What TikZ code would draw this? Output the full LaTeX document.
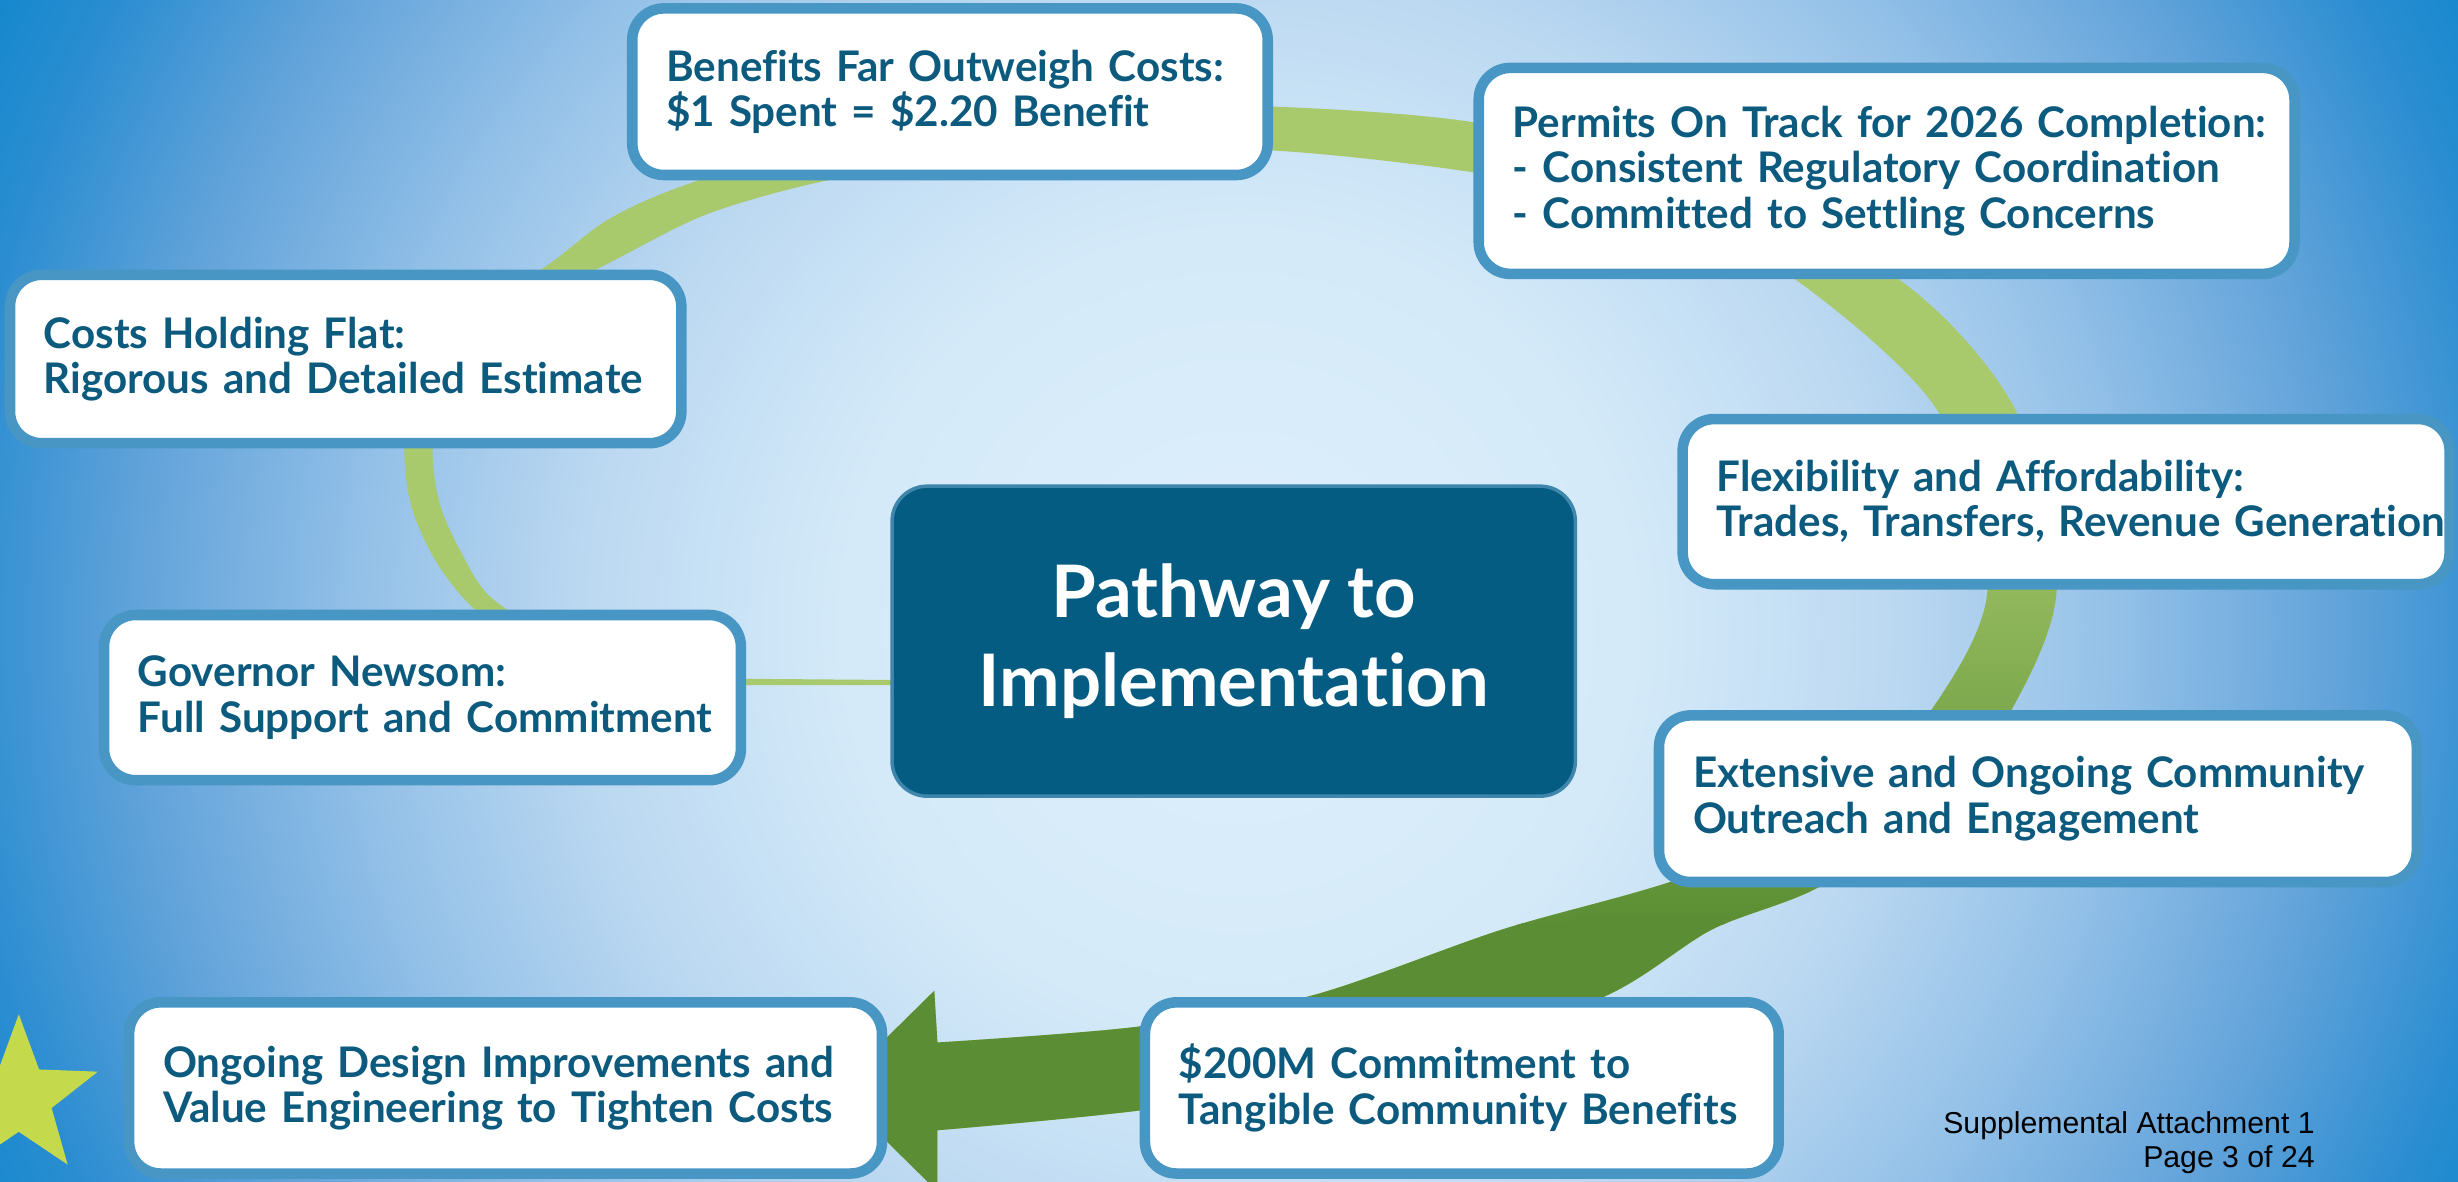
\documentclass[tikz,border=0pt]{standalone}
\usepackage{fontspec}
\setmainfont{Lato}[Ligatures=NoCommon]
\newfontfamily\notefont{Liberation Sans}
\usetikzlibrary{calc}

\definecolor{glow0}{HTML}{DFEFFA}
\definecolor{glow1}{HTML}{D4EAF9}
\definecolor{glow2}{HTML}{BBD8F1}
\definecolor{glow3}{HTML}{94C1E8}
\definecolor{glow4}{HTML}{62A3DA}
\definecolor{glow5}{HTML}{2A8DD1}
\definecolor{glow6}{HTML}{1187CD}
\definecolor{bandlight}{HTML}{A8C96C}
\definecolor{banddark}{HTML}{5B8E34}
\definecolor{boxedge}{HTML}{4796C4}
\definecolor{boxtext}{HTML}{0C5A7E}
\definecolor{hubfill}{HTML}{045C82}
\definecolor{hubedge}{HTML}{3F86AC}
\definecolor{starcol}{HTML}{C4DA4C}

\pgfdeclareradialshading{bgglow}{\pgfpoint{0bp}{0bp}}{color(0bp)=(glow0); color(7bp)=(glow1); color(11.7bp)=(glow2); color(15.5bp)=(glow3); color(19.5bp)=(glow4); color(22.8bp)=(glow5); color(25bp)=(glow6); color(50bp)=(glow6)}

\begin{document}
\begin{tikzpicture}[x=0.446pt, y=-0.446pt,
  infobox/.style={draw=boxedge, line width=3pt, fill=white, rounded corners=9pt, text=boxtext, align=left, inner sep=0pt, font=\bfseries\fontsize{12}{12.9}\selectfont},
  hubbox/.style={draw=hubedge, line width=1pt, fill=hubfill, rounded corners=10pt, text=white, align=center, inner sep=0pt, font=\bfseries\fontsize{20.6}{25.5}\selectfont},
  footnote/.style={align=right, inner sep=0pt, font=\notefont\fontsize{8.6}{9.8}\selectfont}]
  \useasboundingbox (0,0) rectangle (1568,754);
  \clip (0,0) rectangle (1568,754);
  \fill[glow6] (0,0) rectangle (1568,754);
  \shade[shading=bgglow] (790,400) circle (900);

  \begin{scope}
    \clip (600,434) -- plot[smooth] coordinates {(476,433) (410,424) (350,404) (312,380) (294,352) (281,323) (276,290) (281,245) (308,205) (380,172) (450,137) (528,115) (620,101) (700,97) (812,96) (940,110) (1060,135) (1145,178) (1236,262) (1268,374) (1232,453) (1170,518) (1070,561) (958,593) (837,635) (725,655) (598,665)}
      -- (596,632) -- (532,695) -- (598,760)
      -- plot[smooth] coordinates {(598,721) (730,708) (900,682) (1025,635) (1092,593) (1160,566) (1235,515) (1283,453) (1312,374) (1286,262) (1211,178) (1070,108) (940,78) (812,68) (680,68) (550,84) (440,117) (388,140) (345,172) (290,200) (262,240) (258,290) (263,325) (278,358) (300,386) (335,412) (400,431) (476,437)}
      -- (600,437) -- cycle;
    \fill[bandlight] (0,0) rectangle (1568,754);
    \shade[top color=bandlight, bottom color=banddark] (1000,290) rectangle (1568,590);
    \fill[banddark] (1000,589) rectangle (1568,760);
    \shade[top color=bandlight, bottom color=banddark] (0,440) rectangle (1001,590);
    \fill[banddark] (0,589) rectangle (1001,760);
  \end{scope}

  \coordinate (starc) at (12,700);
  \fill[starcol] ($(starc)+(-90:53)$) \foreach \a in {-90,-18,54,126,198}{ -- ($(starc)+(\a+36:22)$) -- ($(starc)+(\a+72:53)$) } -- cycle;

  \node[infobox, minimum width=180.8pt, minimum height=47.4pt, text width=161.5pt] (benefit) at (606,58.5) {\mbox{Benefits Far Outweigh Costs:}\\\mbox{\$1 Spent = \$2.20 Benefit}};
  \node[infobox, minimum width=232.1pt, minimum height=58.6pt, text width=212.7pt] (permits) at (1203.5,109) {\mbox{Permits On Track for 2026 Completion:}\\\mbox{- Consistent Regulatory Coordination}\\\mbox{- Committed to Settling Concerns}};
  \node[infobox, minimum width=191pt, minimum height=47.9pt, text width=171.7pt] (costs) at (220.5,229) {\mbox{Costs Holding Flat:}\\\mbox{Rigorous and Detailed Estimate}};
  \node[infobox, minimum width=218.2pt, minimum height=47pt, text width=198.9pt] (flex) at (1318,320) {\mbox{Flexibility and Affordability:}\\\mbox{Trades, Transfers, Revenue Generation}};
  \node[infobox, minimum width=181.2pt, minimum height=47pt, text width=161.9pt] (governor) at (269.5,445) {\mbox{Governor Newsom:}\\\mbox{Full Support and Commitment}};
  \node[infobox, minimum width=215.6pt, minimum height=47.4pt, text width=196.2pt] (outreach) at (1300,509.5) {\mbox{Extensive and Ongoing Community}\\\mbox{Outreach and Engagement}};
  \node[infobox, minimum width=214.2pt, minimum height=48.7pt, text width=194.9pt] (design) at (322.5,694) {\mbox{Ongoing Design Improvements and}\\\mbox{Value Engineering to Tighten Costs}};
  \node[infobox, minimum width=180.3pt, minimum height=48.7pt, text width=161pt] (community) at (932.5,694) {\mbox{\$200M Commitment to}\\\mbox{Tangible Community Benefits}};
  \node[hubbox, minimum width=194.4pt, minimum height=88.2pt] (pathway) at (787,409) {Pathway to\\Implementation};

  \node[footnote, anchor=east] (attach) at (1477,729) {Supplemental Attachment 1\\Page 3 of 24};
\end{tikzpicture}
\end{document}
